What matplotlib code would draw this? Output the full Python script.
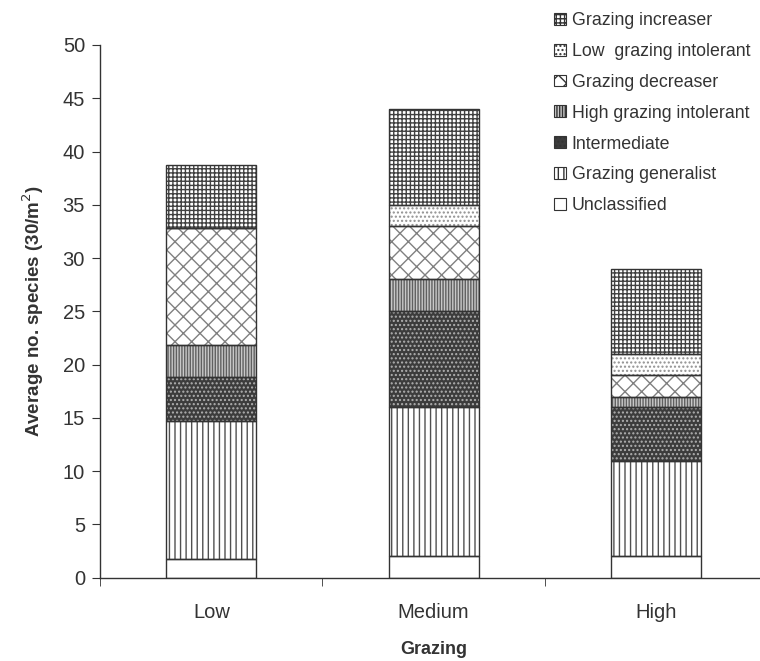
import matplotlib
matplotlib.use("Agg")
import matplotlib.pyplot as plt
from matplotlib.patches import Patch
import numpy as np

plt.rcParams['font.family'] = ['Liberation Sans', 'DejaVu Sans']
plt.rcParams['hatch.linewidth'] = 1.0

categories = ["Low", "Medium", "High"]
groups = ["Unclassified", "Grazing generalist", "Intermediate",
          "High grazing intolerant", "Grazing decreaser",
          "Low  grazing intolerant", "Grazing increaser"]

unclassified = [1.8, 2.0, 2.0]
generalist = [12.9, 14.0, 9.0]
intermediate = [4.1, 9.0, 5.0]
high_intolerant = [3.0, 3.0, 1.0]
decreaser = [11.0, 5.0, 2.0]
low_intolerant = [0.0, 2.0, 2.0]
increaser = [5.9, 9.0, 8.0]

series = [unclassified, generalist, intermediate, high_intolerant,
          decreaser, low_intolerant, increaser]

# (face colour, hatch colour, hatch pattern)
styles = [
    ("white", "#404040", ""),
    ("white", "#505050", "|||"),
    ("#3c3c3c", "#b0b0b0", "...."),
    ("#c8c8c8", "#606060", "||||||"),
    ("white", "#808080", "xx"),
    ("white", "#909090", "...."),
    ("white", "#404040", "++++"),
]

fig = plt.figure(figsize=(7.6, 6.61), dpi=100)
ax = fig.add_axes([0.132, 0.126, 0.877, 0.806])

x = np.arange(len(categories))
width = 0.405
bottom = np.zeros(len(categories))
for vals, (fc, hc, hatch) in zip(series, styles):
    vals = np.array(vals)
    ax.bar(x, vals, width, bottom=bottom, color=fc, edgecolor=hc,
           hatch=hatch, linewidth=0, zorder=2)
    ax.bar(x, vals, width, bottom=bottom, fill=False, edgecolor="#333333",
           linewidth=1.0, zorder=3)
    bottom += vals

ax.set_xlim(-0.5, 2.5)
ax.set_ylim(0, 50)
ax.set_yticks(np.arange(0, 51, 5))
ax.set_xticks(x)
ax.set_xticklabels(categories, fontsize=14.5, color="#333333")
ax.set_xticks([-0.5, 0.5, 1.5, 2.5], minor=True)
ax.tick_params(axis='y', labelsize=14.5, labelcolor="#333333", length=6,
               direction='out', color="#333333", pad=5)
ax.tick_params(axis='x', which='major', length=0, pad=18)
ax.tick_params(axis='x', which='minor', length=6, direction='out',
               color="#333333")
for s in ["top", "right"]:
    ax.spines[s].set_visible(False)
for s in ["left", "bottom"]:
    ax.spines[s].set_color("#333333")
    ax.spines[s].set_linewidth(1.0)

ax.set_ylabel("Average no. species (30/m$^2$)", fontsize=13.5,
              fontweight='bold', color="#333333", labelpad=12)
ax.set_xlabel("Grazing", fontsize=13, fontweight='bold', color="#333333",
              labelpad=14)

handles = []
for name, (fc, hc, hatch) in zip(groups, styles):
    handles.append(Patch(facecolor=fc, edgecolor="#333333", hatch=hatch,
                         linewidth=0.8, label=name))
leg = fig.legend(handles[::-1], groups[::-1], loc="upper left",
                 bbox_to_anchor=(0.708, 1.006), frameon=False, fontsize=12.8,
                 handlelength=0.65, handleheight=0.65, handletextpad=0.35,
                 labelspacing=0.78, labelcolor="#333333")

fig.savefig("out.png", dpi=100)
